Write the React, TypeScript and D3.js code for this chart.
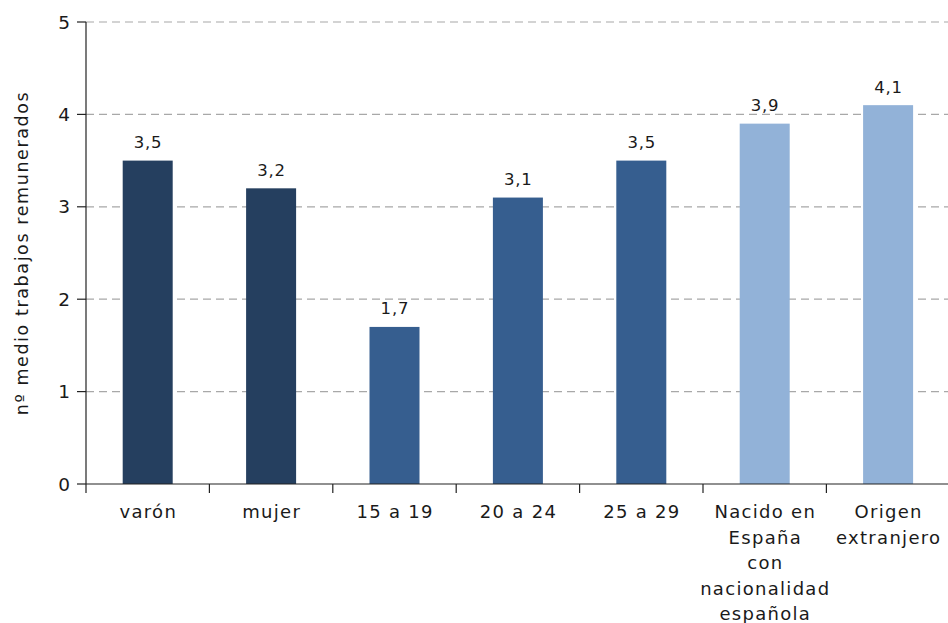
import React from "react";
import * as d3 from "d3";

const categories: string[][] = [
  ["varón"],
  ["mujer"],
  ["15 a 19"],
  ["20 a 24"],
  ["25 a 29"],
  ["Nacido en", "España", "con", "nacionalidad", "española"],
  ["Origen", "extranjero"],
];
const values: number[] = [3.5, 3.2, 1.7, 3.1, 3.5, 3.9, 4.1];
const groups: string[] = ["sexo", "sexo", "edad", "edad", "edad", "origen", "origen"];
const groupColors: Record<string, string> = {
  sexo: "#253F5F",
  edad: "#365E8F",
  origen: "#92B2D8",
};
const yTicks: number[] = [0, 1, 2, 3, 4, 5];
const yLabel = "nº medio trabajos remunerados";

const W = 948;
const H = 623;
const margin = { left: 86, right: 0, top: 22, bottom: 139 };
const font = "'DejaVu Sans', 'Noto Sans', sans-serif";

export default function App() {
  const x = d3
    .scaleBand<number>()
    .domain(values.map((_, i) => i))
    .range([margin.left, margin.left + 123.4 * 7])
    .paddingInner(0)
    .paddingOuter(0);
  const y = d3.scaleLinear().domain([0, 5]).range([H - margin.bottom, margin.top]);
  const barW = 50;
  const fmt = (v: number) => v.toFixed(1).replace(".", ",");

  return (
    <svg width={W} height={H} style={{ position: "absolute", left: 0, top: 0, background: "#fff" }}>
      {yTicks.map((t) => (
        <g key={t}>
          {t > 0 && (
            <line
              x1={margin.left}
              x2={W}
              y1={y(t)}
              y2={y(t)}
              stroke="#A8A8A8"
              strokeWidth={1.2}
              strokeDasharray="8,5"
            />
          )}
          <line x1={margin.left - 9} x2={margin.left} y1={y(t)} y2={y(t)} stroke="#222" strokeWidth={1.2} />
          <text
            x={margin.left - 16}
            y={y(t)}
            dy="0.36em"
            textAnchor="end"
            fontFamily={font}
            fontSize={18.5}
            fill="#1a1a1a"
          >
            {t}
          </text>
        </g>
      ))}
      {values.map((v, i) => {
        const cx = (x(i) as number) + x.bandwidth() / 2;
        return (
          <g key={i}>
            <rect
              x={cx - barW / 2}
              y={y(v)}
              width={barW}
              height={y(0) - y(v)}
              fill={groupColors[groups[i]]}
            />
            <text
              x={cx + 0.4}
              y={y(v) - 12.5}
              textAnchor="middle"
              fontFamily={font}
              fontSize={16.5}
              letterSpacing={0.8}
              fill="#1a1a1a"
            >
              {fmt(v)}
            </text>
            {categories[i].map((line, j) => (
              <text
                key={j}
                x={cx + 0.6}
                y={518 + j * 25.5}
                textAnchor="middle"
                fontFamily={font}
                fontSize={18}
                letterSpacing={1.3}
                fill="#1a1a1a"
              >
                {line}
              </text>
            ))}
          </g>
        );
      })}
      {d3.range(values.length + 1).map((i) => {
        const xx = margin.left + i * x.step();
        return (
          <line key={i} x1={xx} x2={xx} y1={y(0)} y2={y(0) + 9} stroke="#222" strokeWidth={1.2} />
        );
      })}
      <line x1={margin.left} x2={margin.left} y1={margin.top} y2={y(0)} stroke="#222" strokeWidth={1.2} />
      <line x1={margin.left} x2={W} y1={y(0)} y2={y(0)} stroke="#222" strokeWidth={1.2} />
      <text
        transform={`translate(28,${(y(0) + y(5)) / 2}) rotate(-90)`}
        textAnchor="middle"
        fontFamily={font}
        fontSize={17.5}
        letterSpacing={1.6}
        fill="#1a1a1a"
      >
        {yLabel}
      </text>
    </svg>
  );
}
